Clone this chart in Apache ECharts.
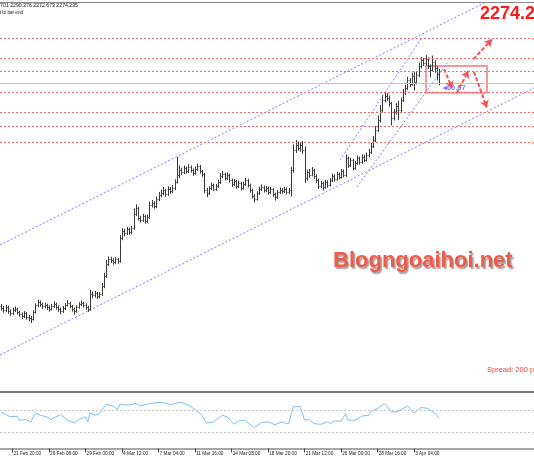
<!DOCTYPE html>
<html><head><meta charset="utf-8">
<script src="https://cdn.jsdelivr.net/npm/echarts@6/dist/echarts.min.js"></script>
<style>html,body{margin:0;padding:0;background:#fff}#c{width:534px;height:462px}</style>
</head><body><div id="c"></div>
<script>
// ---- data (XAUUSD H4) ----
const opens = [
2029.0,2027.2,2025.0,2028.3,2023.9,2021.7,2025.0,2026.1,2022.8,2020.6,
2018.4,2021.7,2017.3,2016.2,2015.1,2022.8,2030.5,2033.8,2031.6,2029.4,
2030.5,2028.3,2026.1,2029.4,2031.6,2028.3,2026.1,2023.9,2027.2,2030.5,
2032.7,2029.4,2026.1,2023.9,2028.3,2031.6,2032.7,2030.5,2028.3,2026.1,
2042.6,2041.5,2043.7,2040.4,2042.6,2051.4,2062.4,2075.6,2081.1,2080.0,
2077.8,2081.1,2078.9,2104.2,2111.9,2109.7,2114.1,2110.8,2115.2,2130.6,
2137.2,2126.2,2124.0,2128.4,2122.9,2127.3,2140.5,2142.7,2139.4,2147.1,
2151.5,2153.7,2157.0,2152.6,2158.1,2155.9,2159.2,2165.8,2173.5,2179.0,
2176.8,2181.2,2177.9,2182.3,2179.0,2175.7,2180.1,2183.4,2177.9,2174.6,
2157.0,2153.7,2159.2,2162.5,2158.1,2161.4,2165.8,2172.4,2174.6,2170.2,
2173.5,2168.0,2163.6,2166.9,2161.4,2164.7,2159.2,2163.6,2168.0,2162.5,
2157.0,2150.4,2147.1,2153.7,2158.1,2160.3,2157.0,2159.2,2154.8,2158.1,
2152.6,2149.3,2154.8,2157.0,2155.9,2158.1,2154.8,2157.0,2179.0,2201.0,
2206.5,2203.2,2206.5,2201.0,2170.2,2176.8,2173.5,2179.0,2172.4,2168.0,
2161.4,2164.7,2160.3,2165.8,2162.5,2168.0,2172.4,2169.1,2174.6,2171.3,
2177.8,2173.5,2192.2,2184.5,2190.0,2181.2,2186.7,2192.2,2187.8,2193.3,
2190.0,2195.5,2198.8,2205.4,2212.0,2223.0,2234.0,2245.0,2256.0,2260.4,
2258.2,2252.7,2236.2,2242.8,2249.4,2245.0,2256.0,2264.8,2269.2,2278.0,
2273.6,2282.4,2275.8,2283.5,2293.4,2300.0,2296.7,2301.1,2293.4,2289.0,
2297.8,2291.2,2284.701];
const highs = [
2031.5,2029.3,2030.6,2029.8,2025.6,2027.4,2028.9,2027.5,2024.1,2022.3,
2023.8,2022.9,2019.6,2018.3,2024.6,2032.4,2036.2,2035.4,2033.0,2033.1,
2031.9,2030.0,2031.8,2034.7,2033.2,2029.9,2027.6,2029.4,2032.8,2035.9,
2034.1,2030.7,2027.8,2030.2,2033.5,2035.3,2034.0,2032.2,2029.7,2047.2,
2045.3,2046.0,2044.9,2044.8,2054.7,2066.0,2080.1,2084.0,2083.6,2082.1,
2083.3,2082.6,2107.5,2115.0,2114.2,2116.3,2115.6,2117.4,2136.8,2141.3,
2138.5,2128.7,2130.9,2129.6,2129.8,2144.2,2146.1,2144.5,2149.8,2154.9,
2157.2,2160.4,2158.3,2161.0,2160.2,2162.5,2168.7,2193.3,2184.1,2181.6,
2184.0,2182.7,2185.4,2183.9,2180.6,2182.8,2186.0,2184.5,2179.3,2176.1,
2159.4,2161.0,2165.1,2164.0,2163.7,2168.3,2175.6,2177.9,2176.0,2176.2,
2174.8,2169.5,2169.2,2168.1,2167.3,2165.9,2166.0,2170.7,2169.4,2163.8,
2158.5,2152.3,2155.6,2160.9,2163.2,2161.8,2161.5,2160.6,2160.4,2159.3,
2154.1,2156.9,2159.7,2159.0,2160.5,2159.6,2159.2,2182.4,2207.2,2212.0,
2210.1,2209.4,2210.8,2205.0,2179.5,2180.2,2182.3,2180.5,2174.1,2169.6,
2167.0,2166.2,2168.1,2167.4,2170.2,2175.0,2174.2,2177.1,2176.4,2180.0,
2179.6,2196.0,2193.8,2192.6,2191.1,2189.0,2194.7,2193.6,2196.1,2195.8,
2198.3,2202.0,2208.7,2216.3,2227.4,2238.9,2250.6,2261.1,2265.2,2263.8,
2261.0,2254.0,2245.9,2252.7,2255.3,2258.7,2268.2,2272.9,2281.5,2280.2,
2286.0,2287.2,2286.9,2297.0,2303.3,2302.1,2305.5,2302.8,2295.2,2304.9,
2299.6,2293.5,2290.276];
const lows = [
2024.8,2022.6,2023.4,2021.5,2019.2,2020.1,2023.3,2020.4,2018.0,2015.9,
2016.7,2015.0,2013.4,2011.2,2013.9,2021.6,2028.7,2029.1,2026.8,2027.2,
2025.7,2023.6,2024.9,2027.9,2026.0,2023.5,2021.2,2022.3,2025.6,2029.4,
2027.3,2023.8,2020.4,2022.5,2026.9,2029.8,2028.1,2025.9,2023.4,2024.8,
2038.4,2039.2,2037.6,2038.5,2040.9,2049.5,2060.8,2073.9,2077.2,2075.4,
2076.0,2076.3,2077.4,2102.3,2106.8,2107.9,2108.2,2109.0,2113.7,2128.9,
2124.1,2121.8,2122.5,2120.7,2121.4,2126.0,2138.3,2137.0,2137.6,2145.3,
2149.6,2151.8,2150.1,2151.2,2153.3,2154.1,2157.4,2164.6,2170.8,2174.2,
2175.1,2175.6,2176.2,2176.7,2173.2,2174.4,2178.5,2175.6,2172.0,2153.9,
2149.8,2151.9,2157.6,2156.2,2156.5,2159.9,2164.2,2170.5,2168.1,2168.4,
2165.7,2161.0,2162.1,2159.0,2159.8,2156.9,2158.0,2162.2,2160.3,2154.6,
2148.1,2143.8,2145.9,2152.2,2156.4,2154.7,2155.1,2152.3,2153.2,2150.0,
2145.9,2147.6,2153.1,2153.4,2154.2,2152.7,2152.9,2150.3,2176.5,2198.3,
2200.7,2199.6,2197.5,2165.3,2168.0,2171.1,2172.6,2170.0,2165.2,2158.7,
2159.3,2157.0,2158.8,2160.1,2161.4,2166.3,2167.0,2167.8,2169.2,2170.1,
2171.4,2172.0,2181.9,2182.7,2179.0,2179.8,2185.3,2185.5,2186.4,2188.2,
2188.9,2193.4,2197.1,2203.8,2210.2,2221.5,2231.8,2242.7,2253.9,2255.6,
2249.3,2228.5,2234.0,2240.6,2234.4,2243.1,2254.5,2262.0,2267.3,2270.9,
2272.1,2267.0,2273.8,2281.6,2291.2,2294.0,2294.5,2290.6,2281.3,2287.4,
2286.5,2278.0,2272.673];
const closes = [
2027.2,2025.0,2028.3,2023.9,2021.7,2025.0,2026.1,2022.8,2020.6,2018.4,
2021.7,2017.3,2016.2,2015.1,2022.8,2030.5,2033.8,2031.6,2029.4,2030.5,
2028.3,2026.1,2029.4,2031.6,2028.3,2026.1,2023.9,2027.2,2030.5,2032.7,
2029.4,2026.1,2023.9,2028.3,2031.6,2032.7,2030.5,2028.3,2026.1,2042.6,
2041.5,2043.7,2040.4,2042.6,2051.4,2062.4,2075.6,2081.1,2080.0,2077.8,
2081.1,2078.9,2104.2,2111.9,2109.7,2114.1,2110.8,2115.2,2130.6,2137.2,
2126.2,2124.0,2128.4,2122.9,2127.3,2140.5,2142.7,2139.4,2147.1,2151.5,
2153.7,2157.0,2152.6,2158.1,2155.9,2159.2,2165.8,2173.5,2179.0,2176.8,
2181.2,2177.9,2182.3,2179.0,2175.7,2180.1,2183.4,2177.9,2174.6,2157.0,
2153.7,2159.2,2162.5,2158.1,2161.4,2165.8,2172.4,2174.6,2170.2,2173.5,
2168.0,2163.6,2166.9,2161.4,2164.7,2159.2,2163.6,2168.0,2162.5,2157.0,
2150.4,2147.1,2153.7,2158.1,2160.3,2157.0,2159.2,2154.8,2158.1,2152.6,
2149.3,2154.8,2157.0,2155.9,2158.1,2154.8,2157.0,2179.0,2201.0,2206.5,
2203.2,2206.5,2201.0,2170.2,2176.8,2173.5,2179.0,2172.4,2168.0,2161.4,
2164.7,2160.3,2165.8,2162.5,2168.0,2172.4,2169.1,2174.6,2171.3,2177.8,
2173.5,2192.2,2184.5,2190.0,2181.2,2186.7,2192.2,2187.8,2193.3,2190.0,
2195.5,2198.8,2205.4,2212.0,2223.0,2234.0,2245.0,2256.0,2260.4,2258.2,
2252.7,2236.2,2242.8,2249.4,2245.0,2256.0,2264.8,2269.2,2278.0,2273.6,
2282.4,2275.8,2283.5,2293.4,2300.0,2296.7,2301.1,2293.4,2289.0,2297.8,
2291.2,2284.701,2274.235];

const tickLabels = ['21 Feb 20:00','26 Feb 08:00','29 Feb 00:00','4 Mar 12:00','7 Mar 04:00','11 Mar 16:00',
  '14 Mar 08:00','18 Mar 20:00','21 Mar 12:00','26 Mar 00:00','28 Mar 16:00','3 Apr 04:00'];
const tickFirstBar = 5, tickStep = 16, slotCount = 234;

const levelPrices = [2324.2, 2302.2, 2288.0, 2264.9, 2242.9, 2227.4, 2209.9];
const bidPrice = 2274.235;

// RSI(14) sub-window, [bar index, value]
const rsiPoints = [[0,67.3],[4,58.0],[7,59.3],[8,51.9],[11,53.1],[13,48.8],[15,65.4],[17,61.1],[20,58.0],[22,53.1],
 [24,58.0],[26,62.3],[29,51.9],[32,46.9],[34,53.1],[37,58.0],[38,48.8],[39,65.4],[41,61.1],[43,64.2],[46,80.9],
 [49,77.8],[51,71.6],[52,80.9],[56,79.6],[59,82.7],[61,77.8],[65,82.7],[70,84.6],[73,82.7],[74,79.6],[77,83.9],
 [79,84.6],[82,79.6],[85,71.6],[88,61.1],[90,46.9],[93,48.8],[97,61.1],[99,58.0],[102,44.4],[104,50.6],[107,51.9],
 [109,43.8],[111,38.3],[114,47.5],[117,48.8],[120,43.8],[123,48.8],[125,45.7],[126,45.7],[128,76.5],[131,77.2],
 [133,51.9],[135,53.1],[137,45.7],[140,44.4],[143,48.8],[144,45.7],[146,50.6],[149,50.0],[151,64.2],[152,51.9],
 [155,51.9],[158,59.3],[161,61.1],[162,68.5],[165,73.5],[168,82.7],[171,67.3],[173,67.3],[175,70.4],[178,77.8],
 [181,65.4],[184,75.3],[187,73.5],[189,67.3],[190,65.4],[192,54.9]];
const rsiLevels = [70, 30];

// drawn objects in [bar index, price]
const channelUpper = [[-0.5, 2096.5], [211.6, 2362.7]];
const channelLower = [[-0.5, 1975.5], [233.5, 2269.2]];
const steepUpper = [[148.5, 2190.0], [184.5, 2325.3]];
const steepLower = [[155.9, 2160.3], [195.4, 2296.7]];
const boxCorners = [[186.2, 2293.4], [212.9, 2264.0]];
const arrows = [
  [[194.1, 2290.1], [197.6, 2269.2]],
  [[199.6, 2263.4], [204.7, 2287.9]],
  [[207.2, 2287.1], [212.8, 2247.8]],
  [[206.9, 2300.8], [215.0, 2322.5]]
];
const priceTag = {at: [193.6, 2269.8], text: '\u25C260.07'};

// ---- chart ----
const xMin = -0.5, xMax = slotCount - 0.5;
const categories = [];
for (let i = 0; i < slotCount; i++) {
  const k = (i - tickFirstBar) / tickStep;
  categories.push(Number.isInteger(k) && k >= 0 && k < tickLabels.length ? tickLabels[k] : 's' + i);
}
const isTick = (idx) => { const k = (idx - tickFirstBar) / tickStep; return Number.isInteger(k) && k >= 0 && k < tickLabels.length; };
const bars = opens.map((o, i) => [i, o, highs[i], lows[i], closes[i]]);

const blueDot = {color: '#7f7fff', width: 1, type: [2, 2]};
function chLine(pts) {
  return {type: 'line', xAxisIndex: 0, yAxisIndex: 0, data: pts, symbol: 'none', silent: true,
    lineStyle: blueDot, clip: true, z: 3};
}

const chart = echarts.init(document.getElementById('c'));
const BAR = '#3a3a3a';
chart.setOption({
  animation: false,
  backgroundColor: '#ffffff',
  grid: [
    {left: 0, right: 0, top: 2, height: 390},
    {left: 0, right: 0, top: 394, height: 54.5}
  ],
  xAxis: [
    {type: 'value', gridIndex: 0, min: xMin, max: xMax, position: 'top',
     axisLine: {show: true, lineStyle: {color: '#8a8a8a', width: 1}}, axisTick: {show: false}, axisLabel: {show: false}, splitLine: {show: false}},
    {type: 'value', gridIndex: 0, min: xMin, max: xMax, position: 'bottom',
     axisLine: {show: true, onZero: false, lineStyle: {color: '#7c7c7c', width: 2}}, axisTick: {show: false}, axisLabel: {show: false}, splitLine: {show: false}},
    {type: 'category', gridIndex: 1, data: categories, position: 'bottom', boundaryGap: true,
     axisLine: {show: true, lineStyle: {color: '#8a8a8a', width: 1.5}},
     axisTick: {show: true, interval: (i) => isTick(i), alignWithLabel: true, length: 4, lineStyle: {color: '#444'}},
     axisLabel: {show: true, interval: (i) => isTick(i), align: 'left', margin: 3, fontSize: 4.7,
       color: '#222', fontFamily: 'Liberation Sans', padding: [0, 0, 0, 1]},
     splitLine: {show: false}},
    {type: 'value', gridIndex: 1, min: xMin, max: xMax, position: 'top', show: false}
  ],
  yAxis: [
    {type: 'value', gridIndex: 0, min: 1934.8, max: 2363.8, show: false, splitLine: {show: false}},
    {type: 'value', gridIndex: 1, min: 0, max: 100, show: false, splitLine: {show: false}}
  ],
  series: [
    Object.assign(chLine(channelUpper), {
      markLine: {silent: true, symbol: 'none', label: {show: false},
        data: levelPrices.map(v => ({yAxis: v, lineStyle: {color: '#ef6b6b', width: 1, type: [2, 2]}}))
          .concat([{yAxis: bidPrice, lineStyle: {color: '#c4c4c4', width: 1, type: 'solid'}}])}
    }),
    chLine(channelLower),
    chLine(steepUpper),
    Object.assign(chLine(steepLower), {
      markArea: {silent: true, itemStyle: {color: 'rgba(255,255,255,0)', borderColor: '#f29a9a', borderWidth: 2},
        data: [[{coord: boxCorners[0]}, {coord: boxCorners[1]}]]}
    }),
    {
      type: 'custom', xAxisIndex: 0, yAxisIndex: 0, data: bars, z: 4,
      encode: {x: 0, y: [1, 2, 3, 4]},
      renderItem: function (params, api) {
        const i = api.value(0);
        const o = api.coord([i, api.value(1)]);
        const h = api.coord([i, api.value(2)]);
        const l = api.coord([i, api.value(3)]);
        const c = api.coord([i, api.value(4)]);
        const x = Math.round(o[0]) + 0.5;
        const st = {stroke: BAR, lineWidth: 1};
        const yo = Math.round(o[1]) + 0.5, yc = Math.round(c[1]) + 0.5;
        return {type: 'group', children: [
          {type: 'line', shape: {x1: x, y1: h[1], x2: x, y2: l[1] + 0.5}, style: st},
          {type: 'line', shape: {x1: x - 1, y1: yo, x2: x, y2: yo}, style: st},
          {type: 'line', shape: {x1: x, y1: yc, x2: x + 1, y2: yc}, style: st}
        ]};
      }
    },
    {
      type: 'scatter', xAxisIndex: 0, yAxisIndex: 0, data: [priceTag.at], symbolSize: 0, silent: true, z: 5,
      label: {show: true, position: 'right', distance: 0, formatter: priceTag.text, color: '#5a5aff',
        fontSize: 7.5, fontWeight: 'bold', fontFamily: 'Liberation Sans'}
    },
    {
      type: 'lines', coordinateSystem: 'cartesian2d', xAxisIndex: 0, yAxisIndex: 0, z: 6, silent: true,
      data: arrows.map(a => ({coords: a})),
      symbol: ['none', 'arrow'], symbolSize: 7,
      lineStyle: {color: '#f05454', width: 2, type: [4, 2], opacity: 1}
    },
    {
      type: 'line', xAxisIndex: 3, yAxisIndex: 1, data: rsiPoints, symbol: 'none', silent: true,
      lineStyle: {color: '#80bff5', width: 1},
      markLine: {silent: true, symbol: 'none', label: {show: false},
        data: rsiLevels.map(v => ({yAxis: v})), lineStyle: {color: '#c6c6c6', width: 1, type: [2, 2]}}
    }
  ],
  graphic: [
    {type: 'text', x: 78, y: 6, silent: true, style: {text: 'XAUUSD,H4  2284.701 2290.276 2272.673 2274.235',
      align: 'right', verticalAlign: 'middle', fontSize: 5.2, fontFamily: 'Liberation Sans', fill: '#111'}},
    {type: 'text', x: 23, y: 13, silent: true, style: {text: 'Time left to bar end',
      align: 'right', verticalAlign: 'middle', fontSize: 4.6, fontFamily: 'Liberation Sans', fill: '#111'}},
    {type: 'text', x: 480, y: 14.5, silent: true, style: {text: '2274.23',
      align: 'left', verticalAlign: 'middle', fontSize: 18, fontWeight: 'bold', fontFamily: 'Liberation Sans', fill: '#ff1a1a'}},
    {type: 'text', x: 333, y: 261, silent: true, style: {text: 'Blogngoaihoi.net',
      align: 'left', verticalAlign: 'middle', fontSize: 22, fontWeight: 'bold', fontFamily: 'Liberation Sans', fill: '#f25a4a',
      textShadowColor: 'rgba(70,70,70,0.55)', textShadowOffsetX: 1.5, textShadowOffsetY: 1.5, textShadowBlur: 1.5}},
    {type: 'text', x: 487, y: 370, silent: true, style: {text: 'Spread: 200 points',
      align: 'left', verticalAlign: 'middle', fontSize: 7.5, fontFamily: 'Liberation Sans', fill: '#ff3c3c'}}
  ]
});
</script></body></html>
